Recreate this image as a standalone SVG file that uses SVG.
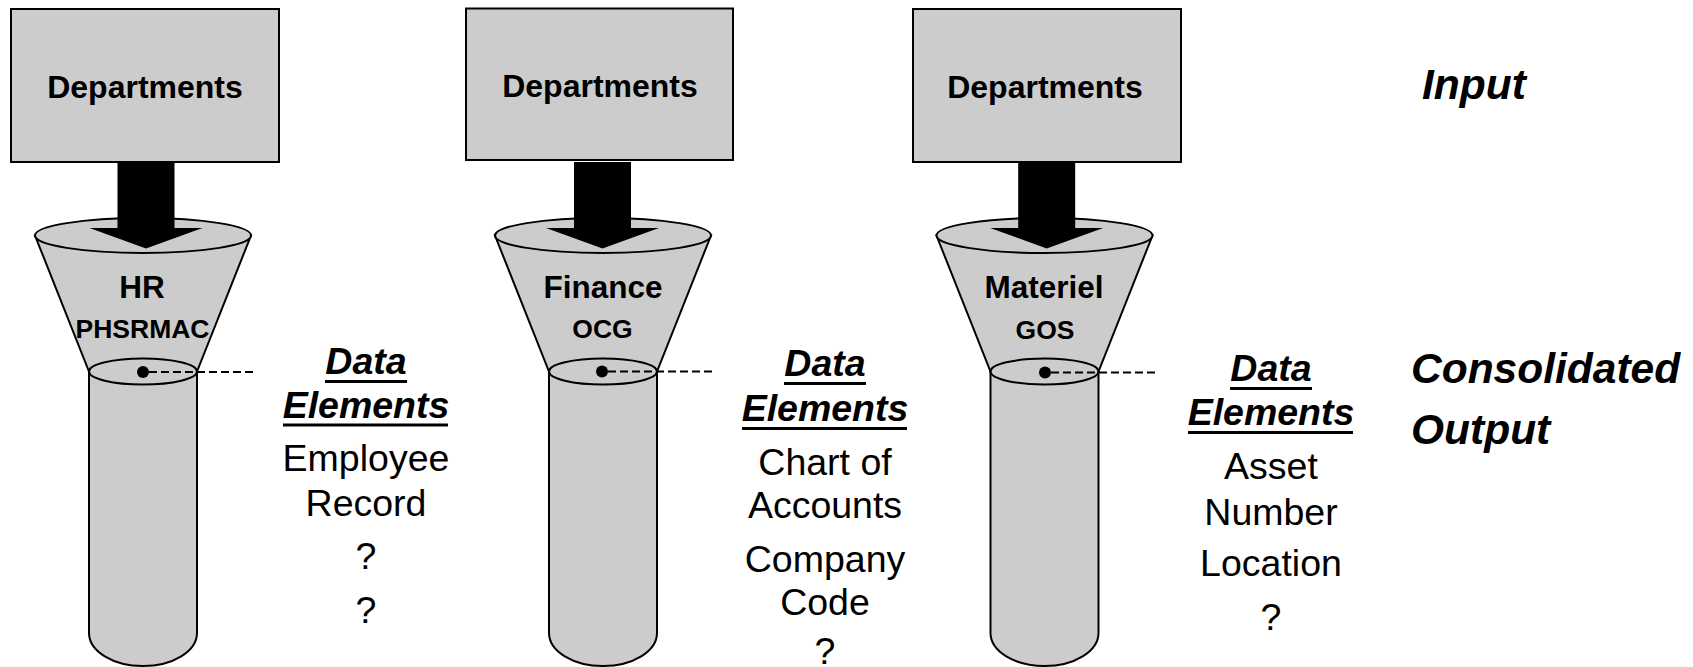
<svg xmlns="http://www.w3.org/2000/svg" xmlns:xlink="http://www.w3.org/1999/xlink" width="1693" height="667" viewBox="0 0 1693 667">
  <style>
    .box{fill:#cccccc;stroke:#000;stroke-width:2}
    .body{fill:#cccccc;stroke:#000;stroke-width:2}
    .arrow{fill:#000}
    .dot{fill:#000}
    .lead{stroke:#000;stroke-width:2;stroke-dasharray:8 4;fill:none}
    .ul{stroke:#000;stroke-width:3}
    text{font-family:"Liberation Sans",Arial,Helvetica,sans-serif;fill:#000}
    .dept{font-size:32px;font-weight:bold;text-anchor:middle}
    .sys{font-size:31.5px;font-weight:bold;text-anchor:middle}
    .code{font-size:26.5px;font-weight:bold;text-anchor:middle}
    .head{font-size:37.5px;font-weight:bold;font-style:italic;text-anchor:middle}
    .item{font-size:37.5px;text-anchor:middle}
    .side{font-size:42.5px;font-weight:bold;font-style:italic}
  </style>
  <defs>
    <!-- funnel over a cylinder, centred on x=0 -->
    <g id="funnel">
      <path class="body" d="M-54,371.5 L-54,633 A54,33 0 0 0 54,633 L54,371.5 Z"/>
      <polygon class="body" points="-108,235.5 108,235.5 54,371.5 -54,371.5"/>
      <ellipse class="body" cx="0" cy="235.5" rx="108" ry="17.5"/>
      <ellipse class="body" cx="0" cy="371.5" rx="54" ry="13"/>
    </g>
    <!-- block arrow from a department box into a funnel -->
    <polygon id="feed" class="arrow" points="-28.5,162 28.5,162 28.5,228 56.5,228 0,248.5 -56.5,228 -28.5,228"/>
  </defs>

  <!-- HR column -->
  <g id="dept-hr">
    <rect class="box" x="11" y="9" width="268" height="153"/>
    <text class="dept" x="145" y="98">Departments</text>
  </g>
  <g id="funnel-hr">
    <use xlink:href="#funnel" transform="translate(143,0)"/>
    <text class="sys" x="142" y="297.5">HR</text>
    <text class="code" x="142.5" y="338">PHSRMAC</text>
  </g>
  <g id="data-hr">
    <text class="head" x="366" y="374">Data</text>
    <line class="ul" x1="325" y1="381.5" x2="407" y2="381.5"/>
    <text class="head" x="366" y="417.5">Elements</text>
    <line class="ul" x1="283" y1="425" x2="448" y2="425"/>
    <text class="item" x="366" y="471">Employee</text>
    <text class="item" x="366" y="516">Record</text>
    <text class="item" x="366" y="568.5">?</text>
    <text class="item" x="366" y="622.5">?</text>
  </g>

  <!-- Finance column -->
  <g id="dept-finance">
    <rect class="box" x="466" y="8.5" width="267" height="151.5"/>
    <text class="dept" x="600" y="97">Departments</text>
  </g>
  <g id="funnel-finance">
    <use xlink:href="#funnel" transform="translate(603,0)"/>
    <text class="sys" x="603" y="297.5">Finance</text>
    <text class="code" x="602.5" y="338">OCG</text>
  </g>
  <g id="data-finance">
    <text class="head" x="825" y="376">Data</text>
    <line class="ul" x1="784" y1="383.5" x2="866" y2="383.5"/>
    <text class="head" x="825" y="421">Elements</text>
    <line class="ul" x1="742" y1="428.5" x2="907" y2="428.5"/>
    <text class="item" x="825" y="475">Chart of</text>
    <text class="item" x="825" y="517.5">Accounts</text>
    <text class="item" x="825" y="571.5">Company</text>
    <text class="item" x="825" y="615">Code</text>
    <text class="item" x="825" y="664">?</text>
  </g>

  <!-- Materiel column -->
  <g id="dept-materiel">
    <rect class="box" x="913" y="9" width="268" height="153"/>
    <text class="dept" x="1045" y="98">Departments</text>
  </g>
  <g id="funnel-materiel">
    <use xlink:href="#funnel" transform="translate(1044.5,0)"/>
    <text class="sys" x="1044" y="297.5">Materiel</text>
    <text class="code" x="1045" y="338.5">GOS</text>
  </g>
  <g id="data-materiel">
    <text class="head" x="1271" y="381">Data</text>
    <line class="ul" x1="1230" y1="388.5" x2="1312" y2="388.5"/>
    <text class="head" x="1271" y="425">Elements</text>
    <line class="ul" x1="1188" y1="432.5" x2="1353" y2="432.5"/>
    <text class="item" x="1271" y="479">Asset</text>
    <text class="item" x="1271" y="524.5">Number</text>
    <text class="item" x="1271" y="576">Location</text>
    <text class="item" x="1271" y="630">?</text>
  </g>

  <!-- stage captions -->
  <g id="captions">
    <text class="side" x="1422" y="98.5">Input</text>
    <text class="side" x="1411" y="382.5">Consolidated</text>
    <text class="side" x="1411" y="444">Output</text>
  </g>

  <!-- connectors: feed arrows and output leaders -->
  <g id="connectors">
    <use xlink:href="#feed" transform="translate(146,0)"/>
    <use xlink:href="#feed" transform="translate(602.5,0)"/>
    <use xlink:href="#feed" transform="translate(1046.7,0)"/>
    <circle class="dot" cx="143" cy="372" r="6"/>
    <line class="lead" x1="149" y1="372" x2="254" y2="372"/>
    <circle class="dot" cx="602" cy="371.5" r="6"/>
    <line class="lead" x1="608" y1="371.5" x2="713" y2="371.5"/>
    <circle class="dot" cx="1045" cy="372.5" r="6"/>
    <line class="lead" x1="1051" y1="372.5" x2="1158" y2="372.5"/>
  </g>
</svg>
